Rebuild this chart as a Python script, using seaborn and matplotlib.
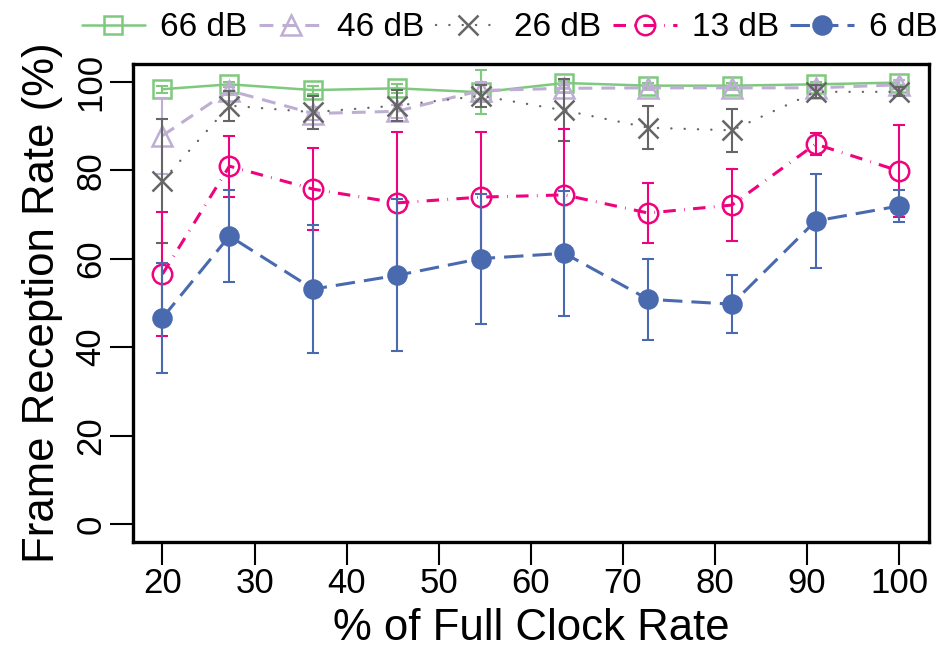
import matplotlib
matplotlib.use("Agg")
import matplotlib.pyplot as plt
import seaborn as sns

# ---- data ----
clock_pct = [20, 27.27, 36.36, 45.45, 54.55, 63.64, 72.73, 81.82, 90.91, 100]
series_labels = ["66 dB", "46 dB", "26 dB", "13 dB", "6 dB"]

rate_66 = [98.3, 99.4, 98.1, 98.5, 97.6, 99.7, 99.1, 99.1, 99.4, 99.8]
err_66 = [0.8, 0.5, 1.0, 1.0, 5.0, 0.5, 0.5, 0.5, 0.5, 0.5]

rate_46 = [87.8, 98.0, 92.8, 93.3, 98.0, 98.5, 98.6, 98.6, 98.6, 99.3]
err_46 = [8.6, 1.0, 1.5, 1.5, 2.0, 1.0, 0.5, 0.5, 0.5, 1.0]

rate_26 = [77.6, 94.6, 93.1, 94.6, 96.8, 93.5, 89.6, 89.0, 97.7, 97.7]
err_26 = [14.0, 3.4, 3.7, 3.6, 2.5, 7.0, 4.9, 4.8, 1.5, 1.0]

rate_13 = [56.5, 80.9, 75.7, 72.6, 73.9, 74.4, 70.3, 72.1, 85.9, 79.8]
err_13 = [14.0, 6.9, 9.2, 16.0, 14.7, 15.0, 6.8, 8.2, 2.5, 10.5]

rate_6 = [46.6, 65.1, 53.1, 56.2, 60.0, 61.2, 50.8, 49.7, 68.5, 71.9]
err_6 = [12.4, 10.3, 14.4, 17.2, 14.7, 14.1, 9.1, 6.5, 10.6, 3.6]

x_ticks = [20, 30, 40, 50, 60, 70, 80, 90, 100]
y_ticks = [0, 20, 40, 60, 80, 100]

# ---- styling ----
sns.set_theme(style="ticks")
plt.rcParams['font.family'] = ['Liberation Sans', 'DejaVu Sans']
plt.rcParams['lines.scale_dashes'] = False

styles = {
    "66 dB": dict(color="#7FC97F", marker="s", ms=13, fill=False, lw=1.8, dashes=None),
    "46 dB": dict(color="#BEAED4", marker="^", ms=15, fill=False, lw=2.2, dashes=(10, 6.5)),
    "26 dB": dict(color="#666666", marker="x", ms=14, fill=False, lw=1.7, dashes=(0.1, 9.5)),
    "13 dB": dict(color="#F0027F", marker="o", ms=14, fill=False, lw=2.2, dashes=(9, 6, 0.5, 6)),
    "6 dB": dict(color="#4A6AB0", marker="o", ms=13, fill=True, lw=2.2, dashes=(14, 6.5)),
}

fig = plt.figure(figsize=(9.4, 6.63), dpi=100)
ax = fig.add_axes([0.1415, 0.183, 0.8465, 0.7205])

all_rates = [rate_66, rate_46, rate_26, rate_13, rate_6]
all_errs = [err_66, err_46, err_26, err_13, err_6]

handles = []
for i, (label, vals, errs) in enumerate(zip(series_labels, all_rates, all_errs)):
    st = styles[label]
    ax.errorbar(clock_pct, vals, yerr=errs, fmt='none', ecolor=st["color"],
                elinewidth=1.5, capsize=4.5, capthick=1.5, zorder=2 + i)
    sns.lineplot(x=clock_pct, y=vals, ax=ax, color=st["color"], marker=st["marker"],
                 markersize=st["ms"],
                 markerfacecolor=st["color"] if st["fill"] else "none",
                 markeredgecolor=st["color"], markeredgewidth=1.8,
                 linewidth=st["lw"], errorbar=None, legend=False, sort=False,
                 zorder=2.5 + i)
    line = ax.lines[-1]
    if st["dashes"] is not None:
        line.set_dashes(st["dashes"])
        line.set_dash_capstyle("round" if label == "26 dB" else "butt")
    handles.append(line)

ax.set_xlim(16.8, 103.2)
ax.set_ylim(-4, 104)
ax.set_xticks(x_ticks)
ax.set_yticks(y_ticks)
ax.set_xticklabels([str(t) for t in x_ticks])
ax.set_yticklabels([str(t) for t in y_ticks])
ax.tick_params(axis='both', length=16.5, width=1.5, labelsize=25, pad=2,
               color='black', labelcolor='black', direction='out')
ax.tick_params(axis='y', labelrotation=90)
for lbl in ax.get_yticklabels():
    lbl.set_va('center')

for sp in ax.spines.values():
    sp.set_linewidth(2.4)
    sp.set_color('black')
    sp.set_visible(True)

ax.set_xlabel("% of Full Clock Rate", fontsize=31.5, labelpad=5.5, color='black')
ax.set_ylabel("Frame Reception Rate (%)", fontsize=31.5, labelpad=8, color='black')

fig.legend(handles, series_labels, loc='center', bbox_to_anchor=(0.542, 0.958),
           ncol=5, frameon=False, fontsize=24, handlelength=1.9,
           handletextpad=0.45, columnspacing=0.35, borderpad=0, borderaxespad=0,
           labelcolor='black')

fig.savefig("out.png", dpi=100, facecolor='white')
